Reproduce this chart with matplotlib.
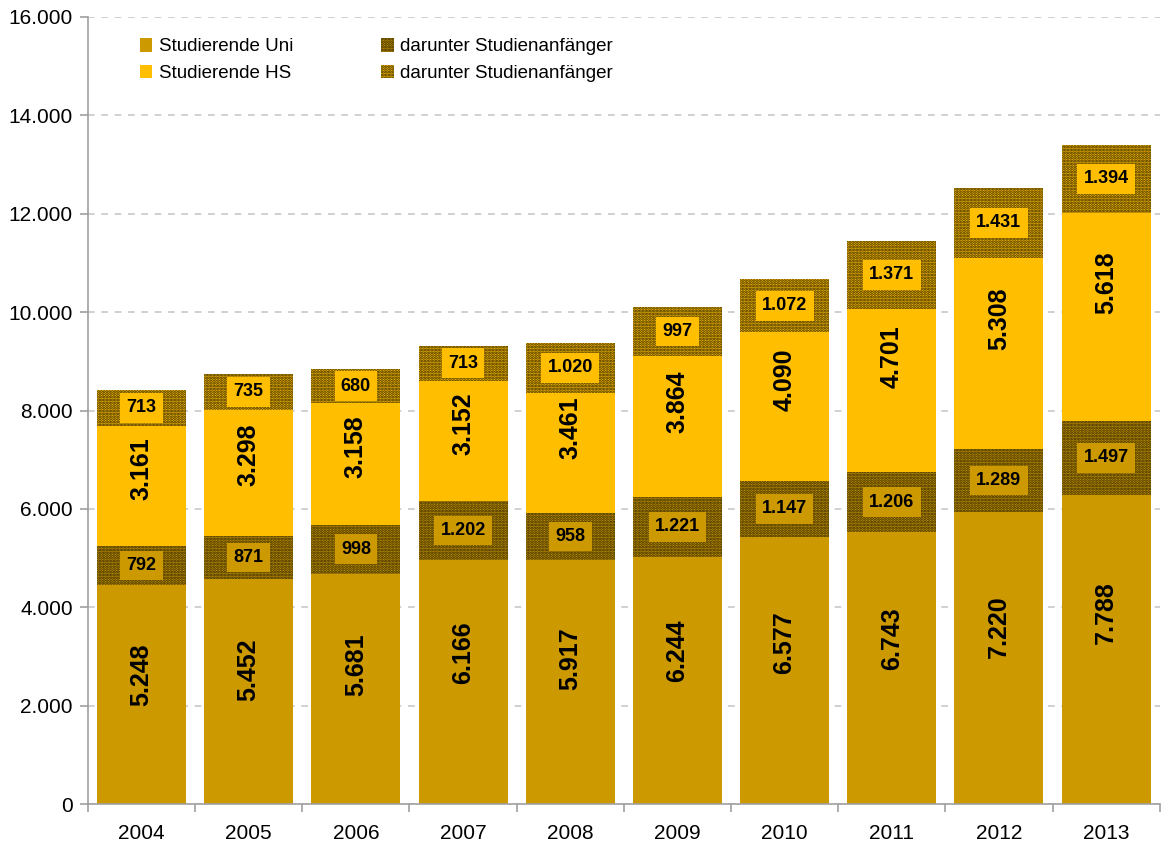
import numpy as np
import matplotlib
matplotlib.use("Agg")
import matplotlib.pyplot as plt
from matplotlib.ticker import FuncFormatter, FixedLocator

plt.rcParams['font.family'] = ['Liberation Sans', 'DejaVu Sans']
plt.rcParams['hatch.linewidth'] = 1.4
plt.rcParams['hatch.color'] = '#2a2000'

years = ['2004', '2005', '2006', '2007', '2008', '2009', '2010', '2011', '2012', '2013']
uni = [5248, 5452, 5681, 6166, 5917, 6244, 6577, 6743, 7220, 7788]
uni_anf = [792, 871, 998, 1202, 958, 1221, 1147, 1206, 1289, 1497]
hs = [3161, 3298, 3158, 3152, 3461, 3864, 4090, 4701, 5308, 5618]
hs_anf = [713, 735, 680, 713, 1020, 997, 1072, 1371, 1431, 1394]

C_UNI = '#CC9900'
C_HS = '#FFBF00'


def fmt(v):
    return f"{int(v):,}".replace(',', '.')


x = np.arange(len(years))
uni = np.array(uni)
uni_anf = np.array(uni_anf)
hs = np.array(hs)
hs_anf = np.array(hs_anf)

fig = plt.figure(figsize=(11.62, 8.5), dpi=100)
ax = fig.add_axes([0.0757, 0.054, 0.9223, 0.926])

w = 0.83
# stacked: Uni without beginners, Uni beginners, HS without beginners, HS beginners
b1 = ax.bar(x, uni - uni_anf, w, color=C_UNI, zorder=2, label='Studierende Uni')
b2 = ax.bar(x, uni_anf, w, bottom=uni - uni_anf, color=C_UNI, hatch='......',
            linewidth=0, zorder=2, label='darunter Studienanfänger')
b3 = ax.bar(x, hs - hs_anf, w, bottom=uni, color=C_HS, zorder=2, label='Studierende HS')
b4 = ax.bar(x, hs_anf, w, bottom=uni + hs - hs_anf, color=C_HS, hatch='......',
            linewidth=0, zorder=2, label='darunter Studienanfänger')

for i in range(len(years)):
    ax.text(x[i], uni[i] / 2, fmt(uni[i]), rotation=90, ha='center', va='center',
            fontsize=18, fontweight='bold', zorder=4)
    ax.text(x[i], uni[i] + hs[i] / 2, fmt(hs[i]), rotation=90, ha='center', va='center',
            fontsize=18, fontweight='bold', zorder=4)
    ax.text(x[i], uni[i] - uni_anf[i] / 2, fmt(uni_anf[i]), ha='center', va='center',
            fontsize=13, fontweight='bold', zorder=4,
            bbox=dict(boxstyle='square,pad=0.35', fc=C_UNI, ec='none'))
    ax.text(x[i], uni[i] + hs[i] - hs_anf[i] / 2, fmt(hs_anf[i]), ha='center', va='center',
            fontsize=13, fontweight='bold', zorder=4,
            bbox=dict(boxstyle='square,pad=0.35', fc=C_HS, ec='none'))

ax.set_xlim(-0.5, len(years) - 0.5)
ax.set_ylim(0, 16000)
ax.set_yticks(np.arange(0, 16001, 2000))
ax.yaxis.set_major_formatter(FuncFormatter(lambda v, p: fmt(v)))
ax.set_xticks(x)
ax.set_xticklabels(years)
ax.xaxis.set_minor_locator(FixedLocator(np.arange(-0.5, len(years), 1.0)))
ax.tick_params(axis='x', which='major', length=0, labelsize=15, pad=14)
ax.tick_params(axis='x', which='minor', length=6, color='#a0a0a0', width=1.2)
ax.tick_params(axis='y', length=6, color='#a0a0a0', width=1.2, labelsize=15, pad=5)

ax.grid(axis='y', color='#c8c8c8', linestyle=(0, (4, 4)), linewidth=1.2, zorder=0)
ax.set_axisbelow(True)
for s in ['top', 'right']:
    ax.spines[s].set_visible(False)
for s in ['left', 'bottom']:
    ax.spines[s].set_color('#a0a0a0')
    ax.spines[s].set_linewidth(1.2)

ax.legend(handles=[b1, b3, b2, b4], ncol=2, loc='upper left',
          bbox_to_anchor=(0.033, 0.995), frameon=False, fontsize=13.5,
          handlelength=0.65, handleheight=0.75, handletextpad=0.35,
          columnspacing=4.7, labelspacing=0.5)

fig.savefig('out.png', dpi=100)
